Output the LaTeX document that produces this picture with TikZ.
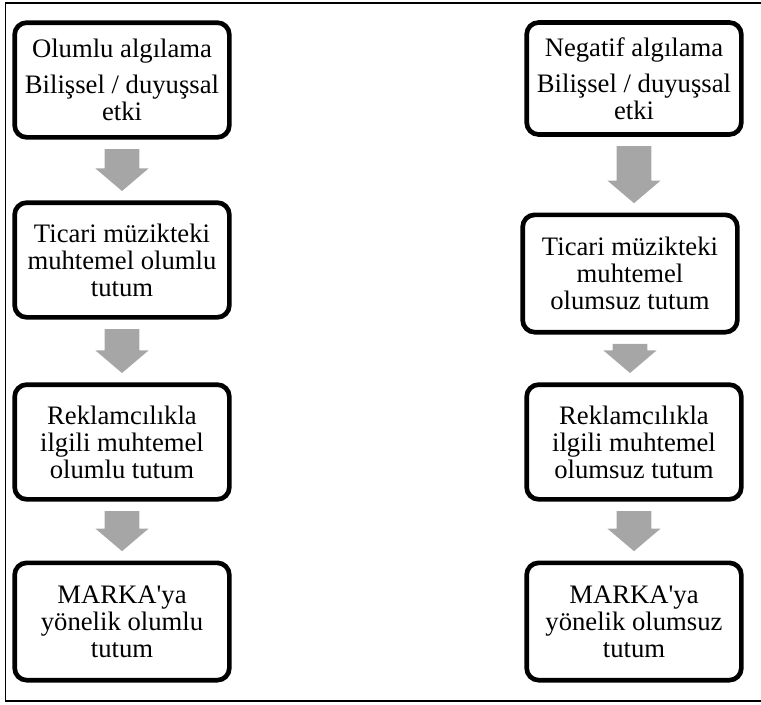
\documentclass[tikz,border=0pt]{standalone}
\usepackage{fontspec}
\setmainfont{Liberation Serif}
\usetikzlibrary{calc}
\definecolor{arrowgray}{RGB}{166,166,166}
\tikzset{
  stage-box/.style={
    draw=black,
    line width=3.5pt,
    rounded corners=9pt,
    align=center,
    minimum width=161pt,
    inner sep=2pt,
    font=\fontsize{20}{20.2}\selectfont
  },
  frame-line/.style={line width=1.3pt, line cap=rect}
}
\newcommand{\flowarrow}[2]{
  \fill[arrowgray] let \p1=(#1.south), \p2=(#2.north) in
    (\x1-13pt,\y1-7pt) -- (\x1+13pt,\y1-7pt) -- (\x1+13pt,\y2+24pt)
    -- (\x1+20pt,\y2+24pt) -- (\x1,\y2+7pt) -- (\x1-20pt,\y2+24pt)
    -- (\x1-13pt,\y2+24pt) -- cycle;
}

\begin{document}
\begin{tikzpicture}[x=0.75pt,y=-0.75pt]
  \useasboundingbox (0,0) rectangle (761,704);
  % outer frame (right side cut off)
  \draw[frame-line] (775,3) -- (5.5,3) -- (5.5,701) -- (775,701);

  % positive column
  \node[stage-box, minimum height=86pt] (pos1) at (122,80)
    {Olumlu algılama\\[7pt] Bilişsel / duyuşsal\\ etki};
  \node[stage-box, minimum height=86pt] (pos2) at (122,260)
    {Ticari müzikteki\\ muhtemel olumlu\\ tutum};
  \node[stage-box, minimum height=86pt] (pos3) at (122,442)
    {Reklamcılıkla\\ ilgili muhtemel\\ olumlu tutum};
  \node[stage-box, minimum height=88pt] (pos4) at (122,621.5)
    {MARKA\textquotesingle ya\\ yönelik olumlu\\ tutum};

  % negative column
  \node[stage-box, minimum height=84pt] (neg1) at (634,78.5)
    {Negatif algılama\\[7pt] Bilişsel / duyuşsal\\ etki};
  \node[stage-box, minimum height=88pt] (neg2) at (630,273.5)
    {Ticari müzikteki\\ muhtemel\\ olumsuz tutum};
  \node[stage-box, minimum height=86pt] (neg3) at (634,442)
    {Reklamcılıkla\\ ilgili muhtemel\\ olumsuz tutum};
  \node[stage-box, minimum height=88pt] (neg4) at (634,621.5)
    {MARKA\textquotesingle ya\\ yönelik olumsuz\\ tutum};

  % gray block arrows
  \flowarrow{pos1}{pos2}
  \flowarrow{pos2}{pos3}
  \flowarrow{pos3}{pos4}
  \flowarrow{neg1}{neg2}
  \flowarrow{neg2}{neg3}
  \flowarrow{neg3}{neg4}
\end{tikzpicture}
\end{document}
